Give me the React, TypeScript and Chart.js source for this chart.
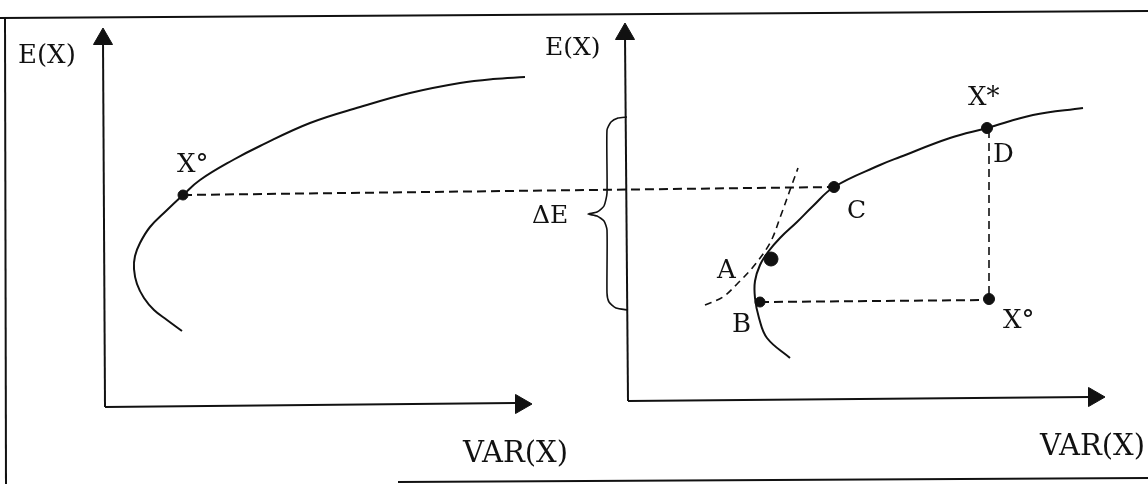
import React, { useEffect, useRef } from "react";
import { Chart, registerables } from "chart.js";

Chart.register(...registerables);

const WIDTH = 1148;
const HEIGHT = 484;

// Shared drawing space: x = VAR(X) direction, y = E(X) direction (reversed scale)
const leftFrontier = [
  { x: 525, y: 77 }, { x: 493, y: 79 }, { x: 460, y: 83 }, { x: 410, y: 93 },
  { x: 360, y: 107 }, { x: 310, y: 123 }, { x: 260, y: 146 }, { x: 233, y: 160 },
  { x: 200, y: 180 }, { x: 183, y: 195 }, { x: 166, y: 211 }, { x: 150, y: 227 },
  { x: 140, y: 243 }, { x: 135, y: 256 }, { x: 134, y: 269 }, { x: 137, y: 284 },
  { x: 144, y: 298 }, { x: 154, y: 310 }, { x: 167, y: 320 }, { x: 182, y: 331 },
];

const rightFrontier = [
  { x: 1083, y: 108 }, { x: 1033, y: 115 }, { x: 987, y: 128 }, { x: 950, y: 138 },
  { x: 900, y: 157 }, { x: 880, y: 165 }, { x: 834, y: 187 }, { x: 813, y: 206 },
  { x: 797, y: 222 }, { x: 780, y: 238 }, { x: 768, y: 252 }, { x: 760, y: 265 },
  { x: 755, y: 281 }, { x: 755, y: 298 }, { x: 759, y: 318 }, { x: 767, y: 338 },
  { x: 790, y: 358 },
];

const tangentCurve = [
  { x: 705, y: 305 }, { x: 723, y: 297 }, { x: 738, y: 283 }, { x: 753, y: 267 },
  { x: 770, y: 243 }, { x: 781, y: 215 }, { x: 790, y: 190 }, { x: 798, y: 168 },
];

const dashXoC = [{ x: 183, y: 195 }, { x: 834, y: 187 }];
const dashBXo = [{ x: 760, y: 302 }, { x: 989, y: 300 }];
const dashXstarXo = [{ x: 989, y: 130 }, { x: 989, y: 299 }];

const leftYAxis = [{ x: 103, y: 40 }, { x: 105, y: 407 }];
const leftXAxis = [{ x: 105, y: 407 }, { x: 515, y: 403 }];
const rightYAxis = [{ x: 625, y: 36 }, { x: 628, y: 401 }];
const rightXAxis = [{ x: 628, y: 401 }, { x: 1090, y: 397 }];

const arrowHeads = [
  { x: 103, y: 39 }, { x: 521, y: 404 }, { x: 625, y: 34 }, { x: 1094, y: 397 },
];
const arrowRotations = [0, 90, 0, 90];

const frameTop = [{ x: 0, y: 18 }, { x: 1148, y: 11 }];
const frameLeft = [{ x: 5, y: 18 }, { x: 6, y: 484 }];
const frameBottom = [{ x: 398, y: 482 }, { x: 1148, y: 478 }];

const deltaBrace = [
  { x: 627, y: 117 }, { x: 618, y: 118 }, { x: 611, y: 122 }, { x: 607, y: 130 },
  { x: 607, y: 193 }, { x: 604, y: 206 }, { x: 597, y: 212 }, { x: 588, y: 214 },
  { x: 597, y: 216 }, { x: 604, y: 221 }, { x: 607, y: 230 }, { x: 607, y: 293 },
  { x: 609, y: 302 }, { x: 616, y: 308 }, { x: 628, y: 310 },
];

const markedPoints = [
  { x: 183, y: 195 }, // X° (left)
  { x: 834, y: 187 }, // C
  { x: 771, y: 259 }, // A
  { x: 760, y: 302 }, // B
  { x: 987, y: 128 }, // X*
  { x: 989, y: 299 }, // X° (right)
];
const markedRadii = [5, 5.5, 7, 5, 5.5, 5.5];

const labelTexts = ["E(X)", "E(X)", "X°", "ΔE", "C", "A", "B", "X*", "D", "X°", "VAR(X)", "VAR(X)"];
const labelX = [18, 545, 177, 532, 847, 717, 732, 968, 993, 1003, 463, 1040];
const labelY = [63, 55, 172, 223, 218, 278, 332, 105, 162, 328, 462, 455];
const labelSizes = [26, 25, 26, 25, 25, 26, 26, 26, 26, 26, 29, 29];

const INK = "#111";

function lineDs(data: { x: number; y: number }[], width: number, dash: number[] = [], tension = 0) {
  return {
    type: "scatter" as const,
    data,
    showLine: true,
    borderColor: INK,
    borderWidth: width,
    borderDash: dash,
    pointRadius: 0,
    tension,
    fill: false,
  };
}

const labelPlugin = {
  id: "diagramLabels",
  afterDatasetsDraw(chart: any) {
    const { ctx, scales } = chart;
    ctx.save();
    ctx.fillStyle = INK;
    ctx.textAlign = "left";
    ctx.textBaseline = "alphabetic";
    labelTexts.forEach((t, i) => {
      ctx.font = `${labelSizes[i]}px "DejaVu Serif"`;
      ctx.fillText(t, scales.x.getPixelForValue(labelX[i]), scales.y.getPixelForValue(labelY[i]));
    });
    ctx.restore();
  },
};

export default function App() {
  const ref = useRef<HTMLCanvasElement | null>(null);

  useEffect(() => {
    if (!ref.current) return;
    const chart = new Chart(ref.current, {
      type: "scatter",
      data: {
        datasets: [
          lineDs(frameTop, 2),
          lineDs(frameLeft, 2),
          lineDs(frameBottom, 2),
          lineDs(leftYAxis, 2),
          lineDs(leftXAxis, 2),
          lineDs(rightYAxis, 2),
          lineDs(rightXAxis, 2),
          lineDs(leftFrontier, 2, [], 0.4),
          lineDs(rightFrontier, 2, [], 0.4),
          lineDs(tangentCurve, 1.6, [7, 5], 0.35),
          lineDs(dashXoC, 2, [9, 5]),
          lineDs(dashBXo, 2, [9, 5]),
          lineDs(dashXstarXo, 1.6, [8, 5]),
          lineDs(deltaBrace, 1.6, [], 0.2),
          {
            type: "scatter",
            data: arrowHeads,
            showLine: false,
            pointStyle: "triangle",
            pointRadius: 11,
            pointRotation: arrowRotations,
            backgroundColor: INK,
            borderColor: INK,
            borderWidth: 1,
          },
          {
            type: "scatter",
            data: markedPoints,
            showLine: false,
            pointStyle: "circle",
            pointRadius: markedRadii,
            backgroundColor: INK,
            borderColor: INK,
            borderWidth: 1,
          },
        ] as any,
      },
      options: {
        animation: false,
        responsive: false,
        devicePixelRatio: 1,
        layout: { padding: 0, autoPadding: false },
        events: [],
        plugins: { legend: { display: false }, tooltip: { enabled: false }, title: { display: false } },
        scales: {
          x: { type: "linear", min: 0, max: WIDTH, display: false },
          y: { type: "linear", min: 0, max: HEIGHT, reverse: true, display: false },
        },
      },
      plugins: [labelPlugin],
    });
    return () => chart.destroy();
  }, []);

  return (
    <div style={{ position: "fixed", left: 0, top: 0, width: WIDTH, height: HEIGHT, background: "#fff" }}>
      <canvas ref={ref} width={WIDTH} height={HEIGHT} style={{ display: "block" }} />
    </div>
  );
}
